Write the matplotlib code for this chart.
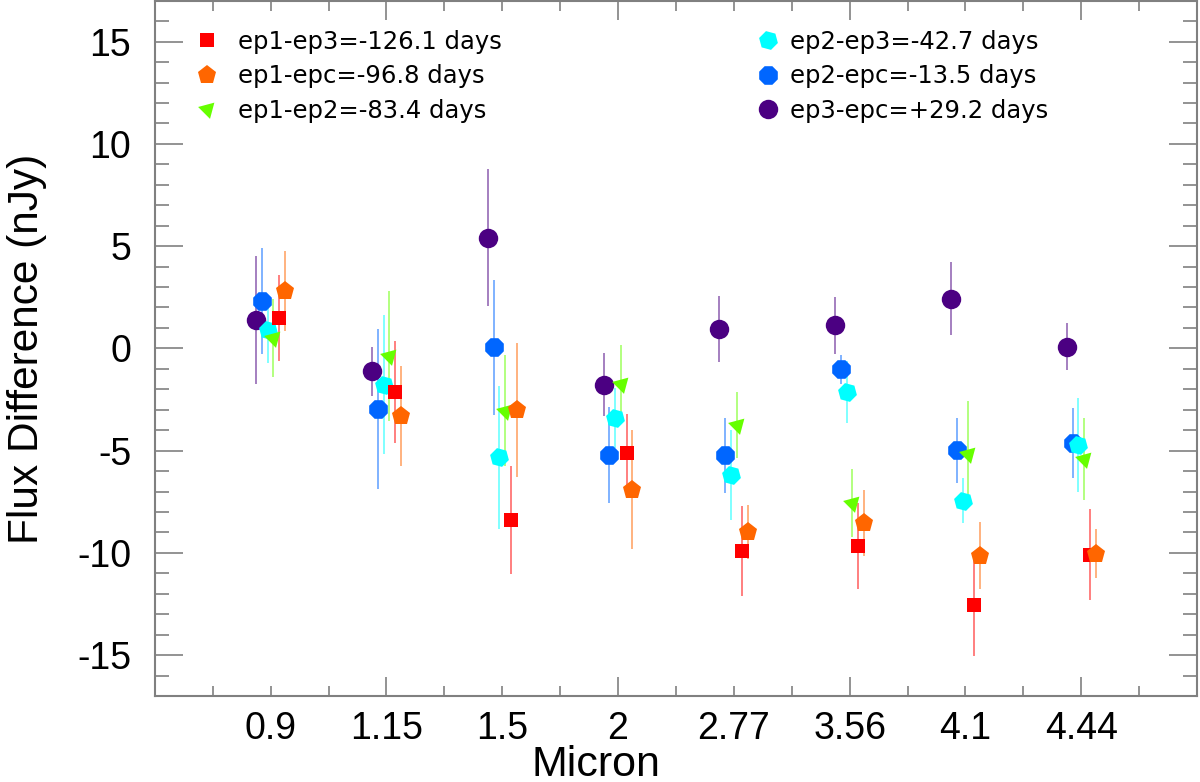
import numpy as np
import matplotlib
matplotlib.use('Agg')
import matplotlib.pyplot as plt
from matplotlib.lines import Line2D

plt.rcParams['font.family'] = ['Liberation Sans', 'DejaVu Sans']

# wavelength bins (categorical)
micron = ['0.9', '1.15', '1.5', '2', '2.77', '3.56', '4.1', '4.44']

# flux differences (nJy) and 1-sigma errors
ep1_ep3 = [1.48, -2.14, -8.38, -5.12, -9.89, -9.68, -12.55, -10.09]
ep1_ep3_err = [2.1, 2.5, 2.65, 1.9, 2.2, 2.1, 2.5, 2.24]
ep1_epc = [2.82, -3.3, -3.0, -6.91, -8.98, -8.54, -10.14, -10.04]
ep1_epc_err = [1.95, 2.45, 3.27, 2.9, 1.3, 1.6, 1.65, 1.2]
ep1_ep2 = [0.5, -0.37, -3.04, -1.72, -3.74, -7.56, -5.15, -5.41]
ep1_ep2_err = [1.9, 3.2, 2.7, 1.9, 1.6, 1.66, 2.6, 2.0]
ep2_ep3 = [0.9, -1.78, -5.33, -3.41, -6.18, -2.14, -7.45, -4.71]
ep2_ep3_err = [1.6, 3.4, 3.5, 1.47, 2.2, 1.5, 1.1, 2.3]
ep2_epc = [2.32, -2.97, 0.06, -5.2, -5.23, -1.02, -4.99, -4.63]
ep2_epc_err = [2.6, 3.9, 3.3, 2.35, 1.83, 0.7, 1.6, 1.7]
ep3_epc = [1.39, -1.13, 5.41, -1.78, 0.94, 1.13, 2.43, 0.09]
ep3_epc_err = [3.15, 1.2, 3.36, 1.53, 1.6, 1.4, 1.8, 1.16]

labels = ['ep1-ep3=-126.1 days', 'ep1-epc=-96.8 days', 'ep1-ep2=-83.4 days',
          'ep2-ep3=-42.7 days', 'ep2-epc=-13.5 days', 'ep3-epc=+29.2 days']

# (values, errors, colour, marker, size, x offset)
series = [
    (ep3_epc, ep3_epc_err, '#4B0082', 'o', 14, -0.125),
    (ep2_epc, ep2_epc_err, '#0066FF', (8, 0, 22.5), 14.5, -0.075),
    (ep2_ep3, ep2_ep3_err, '#00FFFF', (6, 0, 15), 14, -0.025),
    (ep1_ep2, ep1_ep2_err, '#66FF00', (3, 0, 75), 14, 0.025),
    (ep1_ep3, ep1_ep3_err, '#FF0000', 's', 9.5, 0.075),
    (ep1_epc, ep1_epc_err, '#FF6600', 'p', 14, 0.125),
]
legend_idx = [4, 5, 3, 2, 1, 0]

fig = plt.figure(figsize=(12, 7.82), dpi=100)
ax = fig.add_axes([0.129, 0.11, 0.8685, 0.889])

x = np.arange(1, len(micron) + 1)
handles = []
for vals, errs, col, mk, ms, off in series:
    ax.errorbar(x + off, vals, yerr=errs, fmt='none', ecolor=col, elinewidth=1.4,
                alpha=0.5, capsize=0, zorder=2)
    ax.plot(x + off, vals, linestyle='none', marker=mk, markersize=ms,
            color=col, markeredgewidth=0, zorder=3)
    handles.append(Line2D([], [], linestyle='none', marker=mk, markersize=ms,
                          color=col, markeredgewidth=0))

ax.set_xlim(0, 9)
ax.set_ylim(-17, 17)
ax.set_xticks(x)
ax.set_xticklabels(micron)
ax.set_xticks(np.arange(0.5, 9, 1.0), minor=True)
ax.set_yticks(np.arange(-15, 16, 5))
ax.set_yticklabels([str(v) for v in range(-15, 16, 5)])
ax.set_yticks(np.arange(-16, 17, 1), minor=True)

grey = '#808080'
for s in ax.spines.values():
    s.set_color(grey)
    s.set_linewidth(1.5)
ax.tick_params(axis='both', which='both', direction='in', color=grey,
               top=True, right=True, width=1.2, labelsize=27)
ax.tick_params(axis='y', which='major', length=20, pad=17)
ax.tick_params(axis='y', which='minor', length=10)
ax.tick_params(axis='x', which='minor', length=7)
ax.tick_params(axis='x', which='major', length=7, pad=11)
# every second labelled tick is a long one
for i, t in enumerate(ax.xaxis.get_major_ticks()):
    if i % 2 == 1:
        t.tick1line.set_markersize(14)
        t.tick2line.set_markersize(14)

ax.set_xlabel('Micron', fontsize=31)
ax.xaxis.set_label_coords(0.423, -0.071)
ax.set_ylabel('Flux Difference (nJy)', fontsize=30.5)
ax.yaxis.set_label_coords(-0.103, 0.5)

leg_font = {'family': 'DejaVu Sans', 'size': 17.5}
leg1 = ax.legend([handles[i] for i in legend_idx[:3]], [labels[i] for i in range(3)],
                 loc='upper left', bbox_to_anchor=(0.1624, 0.962),
                 bbox_transform=fig.transFigure, frameon=False, prop=leg_font,
                 handlelength=1, handletextpad=0.78, labelspacing=0.43,
                 borderpad=0, borderaxespad=0)
ax.add_artist(leg1)
ax.legend([handles[i] for i in legend_idx[3:]], [labels[i] for i in range(3, 6)],
          loc='upper left', bbox_to_anchor=(0.63, 0.962),
          bbox_transform=fig.transFigure, frameon=False, prop=leg_font,
          handlelength=1, handletextpad=0.41, labelspacing=0.43,
          borderpad=0, borderaxespad=0)

fig.savefig('out.png', dpi=100)
